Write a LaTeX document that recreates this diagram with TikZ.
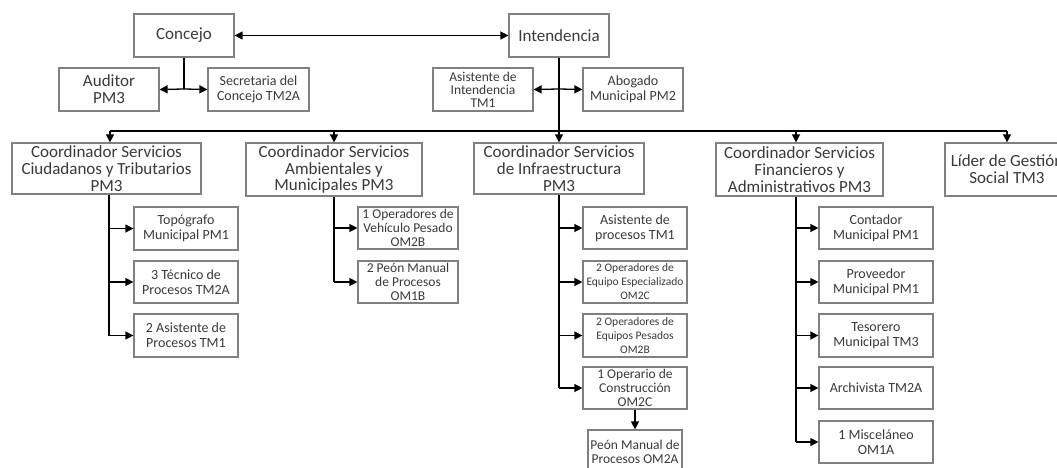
\documentclass[tikz,border=0pt]{standalone}
\usepackage{fontspec}
\setmainfont{Carlito}
\usetikzlibrary{arrows.meta}
\definecolor{boxgray}{HTML}{808080}
\definecolor{txt}{HTML}{3A3A3A}
\tikzset{
  box/.style={draw=boxgray, line width=1.2pt, fill=white, inner sep=0pt, align=center, text=txt,
    font=\fontsize{14}{15}\selectfont},
  big/.style={font=\fontsize{17}{16.7}\selectfont},
  small/.style={font=\fontsize{13.5}{14}\selectfont},
  tiny/.style={font=\fontsize{11.5}{14}\selectfont},
  conn/.style={line width=1.3pt, draw=black},
  arr/.style={conn, -{Triangle[length=8pt,width=8pt]}},
  darr/.style={conn, {Triangle[length=8pt,width=8pt]}-{Triangle[length=8pt,width=8pt]}}
}
\begin{document}
\begin{tikzpicture}[x=1pt,y=-1pt]
\clip (0,0) rectangle (1057,468);
\fill[white] (0,0) rectangle (1057,468);
% top level
\node[box,big,minimum width=100pt,minimum height=43pt] (concejo) at (184,35.5) {Concejo};
\node[box,big,minimum width=100pt,minimum height=43pt] (intend) at (559,35.5) {Intendencia};
\node[box,big,minimum width=100pt,minimum height=43pt] (auditor) at (109,89.5) {Auditor\\PM3};
\node[box,minimum width=101pt,minimum height=43pt] (secret) at (258.5,89.5) {Secretaria del\\Concejo TM2A};
\node[box,font=\fontsize{13.5}{13}\selectfont,minimum width=100pt,minimum height=43pt] (asistint) at (483,89.5) {Asistente de\\Intendencia\\TM1};
\node[box,minimum width=100pt,minimum height=43pt] (abogado) at (633,89.5) {Abogado\\Municipal PM2};
% coordinators
\node[box,big,minimum width=189pt,minimum height=51pt] (c1) at (106.5,168.5) {Coordinador Servicios\\Ciudadanos y Tributarios\\PM3};
\node[box,big,minimum width=176pt,minimum height=53pt] (c2) at (334,169.5) {Coordinador Servicios\\Ambientales y\\Municipales PM3};
\node[box,big,minimum width=170pt,minimum height=51pt] (c3) at (559,168.5) {Coordinador Servicios\\de Infraestructura\\PM3};
\node[box,big,minimum width=167pt,minimum height=53pt] (c4) at (799.5,169.5) {Coordinador Servicios\\Financieros y\\Administrativos PM3};
\node[box,big,minimum width=124pt,minimum height=53pt] (lider) at (1007,169.5) {Líder de Gestión\\Social TM3};
% column 1
\node[box,minimum width=104pt,minimum height=43pt] (topo) at (186,228.5) {Topógrafo\\Municipal PM1};
\node[box,minimum width=104pt,minimum height=42pt] (tecnico) at (186,282) {3 Técnico de\\Procesos TM2A};
\node[box,minimum width=104pt,minimum height=43pt] (asist1) at (186,335.5) {2 Asistente de\\Procesos TM1};
% column 2
\node[box,small,minimum width=100pt,minimum height=42pt] (opveh) at (408,228) {1 Operadores de\\Vehículo Pesado\\OM2B};
\node[box,small,minimum width=100pt,minimum height=42pt] (peon2) at (408,282) {2 Peón Manual\\de Procesos\\OM1B};
% column 3
\node[box,minimum width=104pt,minimum height=42pt] (asproc) at (635,228) {Asistente de\\procesos TM1};
\node[box,tiny,minimum width=104pt,minimum height=42pt] (opesp) at (635,282) {2 Operadores de\\Equipo Especializado\\OM2C};
\node[box,tiny,minimum width=104pt,minimum height=43pt] (oppes) at (635,335.5) {2 Operadores de\\Equipos Pesados\\OM2B};
\node[box,small,minimum width=104pt,minimum height=42pt] (operario) at (635,388) {1 Operario de\\Construcción\\OM2C};
\node[box,small,minimum width=94pt,minimum height=44pt] (peonom) at (635,452) {Peón Manual de\\Procesos OM2A};
% column 4
\node[box,minimum width=114pt,minimum height=42pt] (contador) at (876,228) {Contador\\Municipal PM1};
\node[box,minimum width=114pt,minimum height=42pt] (proveedor) at (876,282) {Proveedor\\Municipal PM1};
\node[box,minimum width=114pt,minimum height=43pt] (tesorero) at (876,335.5) {Tesorero\\Municipal TM3};
\node[box,minimum width=114pt,minimum height=42pt] (archivista) at (876,388) {Archivista TM2A};
\node[box,minimum width=114pt,minimum height=42pt] (misc) at (876,442) {1 Misceláneo\\OM1A};
% connectors top
\draw[darr] (concejo.east) -- (intend.west);
\coordinate (cj) at (184,89);
\draw[conn] (concejo.south) -- (cj);
\draw[arr] (cj) -- (auditor.east);
\draw[arr] (cj) -- (secret.west);
\coordinate (ij) at (559,89);
\draw[arr] (intend.south) -- (c3.north);
\draw[arr] (ij) -- (asistint.east);
\draw[arr] (ij) -- (abogado.west);
% bus
\coordinate (b1) at (110,131);
\coordinate (b2) at (334,131);
\coordinate (b4) at (796,131);
\coordinate (b5) at (1007,131);
\draw[conn] (b1) -- (b5);
\draw[arr] (b1) -- (c1.north -| b1);
\draw[arr] (b2) -- (c2.north -| b2);
\draw[arr] (b4) -- (c4.north -| b4);
\draw[arr] (b5) -- (lider.north);
% trunks
\coordinate (t1) at (109,335.5);
\draw[conn] (c1.south -| t1) -- (t1);
\foreach \n in {topo,tecnico,asist1} \draw[arr] (\n.west -| t1) -- (\n.west);
\coordinate (t2) at (334,282);
\draw[conn] (c2.south -| t2) -- (t2);
\foreach \n in {opveh,peon2} \draw[arr] (\n.west -| t2) -- (\n.west);
\coordinate (t3) at (559,388);
\draw[conn] (c3.south -| t3) -- (t3);
\foreach \n in {asproc,opesp,oppes,operario} \draw[arr] (\n.west -| t3) -- (\n.west);
\coordinate (t4) at (796,442);
\draw[conn] (c4.south -| t4) -- (t4);
\foreach \n in {contador,proveedor,tesorero,archivista,misc} \draw[arr] (\n.west -| t4) -- (\n.west);
\draw[arr] (operario.south) -- (peonom.north);
\end{tikzpicture}
\end{document}
